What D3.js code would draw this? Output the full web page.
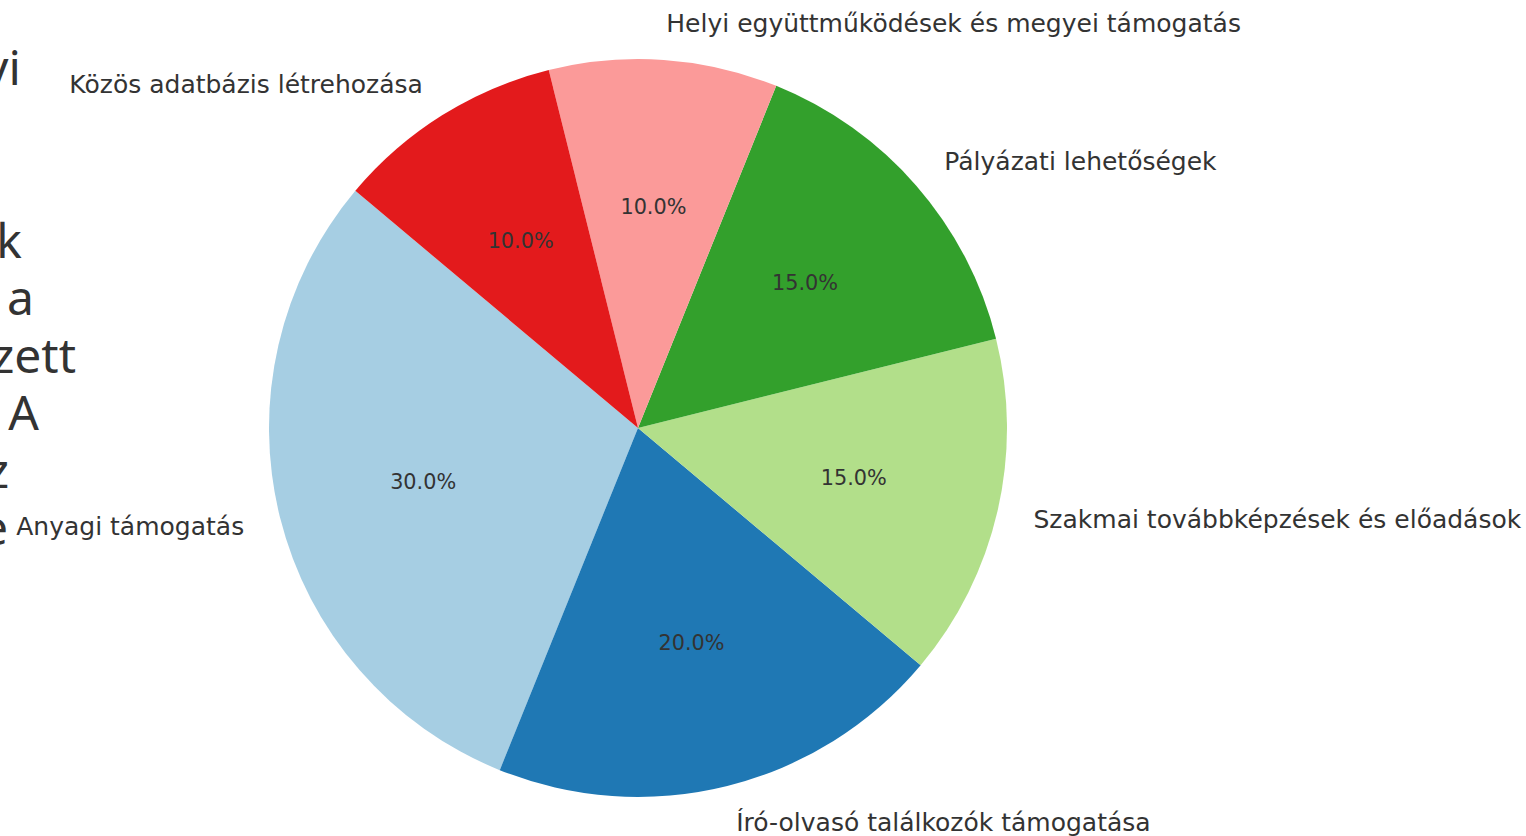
<!DOCTYPE html>
<html>
<head>
<meta charset="utf-8">
<script src="https://cdn.jsdelivr.net/npm/d3@7"></script>
<style>
  body { margin: 0; background: #fff; overflow: hidden; }
  text { font-family: "DejaVu Sans", sans-serif; fill: #333; }
</style>
</head>
<body>
<div id="chart"></div>
<script>
// Slice data, in drawing order (counter-clockwise from 140 deg)
var categories = [
  "Anyagi támogatás",
  "Író-olvasó találkozók támogatása",
  "Szakmai továbbképzések és előadások",
  "Pályázati lehetőségek",
  "Helyi együttműködések és megyei támogatás",
  "Közös adatbázis létrehozása"
];
var values = [30, 20, 15, 15, 10, 10];
var colors = ["#a6cee3", "#1f78b4", "#b2df8a", "#33a02c", "#fb9a99", "#e31a1c"];

// Title text that falls mostly off the left edge of the picture
var titleLines = [
  "a helyi",
  "",
  "",
  "könyvtárak",
  "számára a",
  "végzett",
  "munka. A",
  "az",
  "helye"
];

var svgWidth = 1526;
var svgHeight = 836;
var cx = 638, cy = 428, radius = 369;

var svg = d3.select("#chart")
  .append("svg")
  .attr("width", svgWidth)
  .attr("height", svgHeight);

// cropped title, each line ends where it shows in the picture
var titleEnds = [21, 0, 0, 22, 34, 76, 39, 9, 8];
svg.append("g")
  .selectAll("text")
  .data(titleLines)
  .enter()
  .append("text")
  .attr("x", (d, i) => titleEnds[i])
  .attr("y", (d, i) => 85 + i * 57.5)
  .attr("text-anchor", "end")
  .style("font-family", "'Noto Sans', 'Open Sans', sans-serif")
  .style("font-size", "48px")
  .text(d => d);

var data = categories.map((c, i) => ({ label: c, value: values[i], color: colors[i] }));

// matplotlib starts at 140 deg and goes counter-clockwise
var start = (90 - 140) * Math.PI / 180;
var pie = d3.pie()
  .sort(null)
  .value(d => d.value)
  .startAngle(start)
  .endAngle(start - 2 * Math.PI);

var arc = d3.arc().innerRadius(0).outerRadius(radius);

var chartGroup = svg.append("g")
  .attr("transform", `translate(${cx}, ${cy})`);

var arcs = pie(data);

chartGroup.selectAll("path")
  .data(arcs)
  .enter()
  .append("path")
  .attr("d", arc)
  .attr("fill", d => d.data.color);

function mid(d) { return (d.startAngle + d.endAngle) / 2; }

// category labels at 1.1 r
chartGroup.selectAll("text.label")
  .data(arcs)
  .enter()
  .append("text")
  .attr("class", "label")
  .attr("x", d => Math.sin(mid(d)) * radius * 1.1)
  .attr("y", d => -Math.cos(mid(d)) * radius * 1.1)
  .attr("dy", "0.35em")
  .attr("text-anchor", d => Math.sin(mid(d)) > 0 ? "start" : "end")
  .style("font-size", "25px")
  .text(d => d.data.label);

// percentages at 0.6 r
var total = d3.sum(values);
chartGroup.selectAll("text.pct")
  .data(arcs)
  .enter()
  .append("text")
  .attr("class", "pct")
  .attr("x", d => Math.sin(mid(d)) * radius * 0.6)
  .attr("y", d => -Math.cos(mid(d)) * radius * 0.6)
  .attr("dy", "0.35em")
  .attr("text-anchor", "middle")
  .style("font-size", "20.8px")
  .text(d => (d.data.value / total * 100).toFixed(1) + "%");
</script>
</body>
</html>
